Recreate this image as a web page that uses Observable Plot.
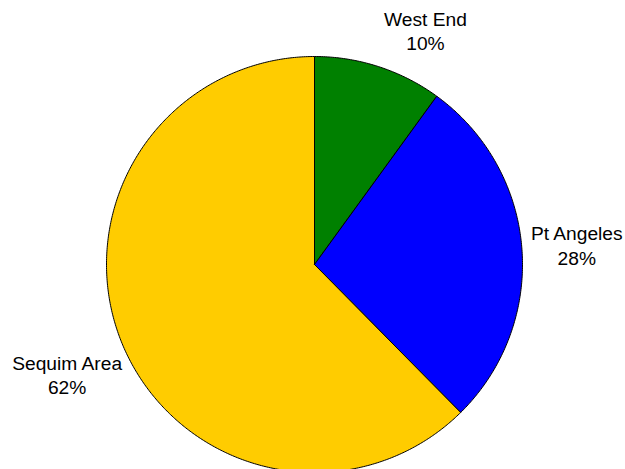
<!DOCTYPE html>
<html>
<head>
<meta charset="utf-8">
<script src="https://cdn.jsdelivr.net/npm/d3@7"></script>
<script src="https://cdn.jsdelivr.net/npm/@observablehq/plot@0.6"></script>
<style>
  html, body { margin: 0; padding: 0; background: #fff; }
</style>
</head>
<body>
<div id="chart"></div>
<script>
// Data
const regions = ["West End", "Pt Angeles", "Sequim Area"];
const shares = [10.0, 27.6, 62.4];
const colors = ["#008000", "#0000FF", "#FFCC00"];

// Layout (styles, not data)
const W = 625, H = 469;
const cx = 314, cy = 264, R = 208;
const labelR = 262;
const labelNudge = {"West End": [30, 15], "Pt Angeles": [1, 0], "Sequim Area": [-5, 10]};

const pie = d3.pie().sort(null).value(d => d.value)(regions.map((r, i) => ({region: r, value: shares[i], color: colors[i]})));
const total = d3.sum(shares);

const pts = [];
pie.forEach(s => {
  const n = Math.max(2, Math.ceil((s.endAngle - s.startAngle) / (Math.PI / 360)));
  pts.push({region: s.data.region, x: 0, y: 0});
  for (let k = 0; k <= n; k++) {
    const a = s.startAngle + (s.endAngle - s.startAngle) * k / n;
    pts.push({region: s.data.region, x: R * Math.sin(a), y: R * Math.cos(a)});
  }
  pts.push({region: s.data.region, x: 0, y: 0});
});

const labels = pie.map(s => {
  const a = (s.startAngle + s.endAngle) / 2;
  const nd = labelNudge[s.data.region];
  return {
    region: s.data.region,
    text: `${s.data.region}\n${Math.round(s.data.value / total * 100)}%`,
    x: labelR * Math.sin(a) + nd[0],
    y: labelR * Math.cos(a) - nd[1]
  };
});

const chart = Plot.plot({
  width: W,
  height: H,
  margin: 0,
  x: {domain: [-cx, W - cx], range: [0, W], axis: null},
  y: {domain: [cy - H, cy], range: [H, 0], axis: null},
  color: {domain: regions, range: colors},
  style: {fontFamily: "'Liberation Sans', Arial, sans-serif", background: "#fff"},
  marks: [
    Plot.line(pts, {x: "x", y: "y", z: "region", fill: "region", stroke: "#000", strokeWidth: 1, curve: "linear-closed"}),
    Plot.text(labels, {x: "x", y: "y", text: "text", fontSize: 19.2, lineHeight: 1.27, fill: "#000", textAnchor: "middle", lineAnchor: "middle"})
  ]
});
document.getElementById("chart").appendChild(chart);
</script>
</body>
</html>
